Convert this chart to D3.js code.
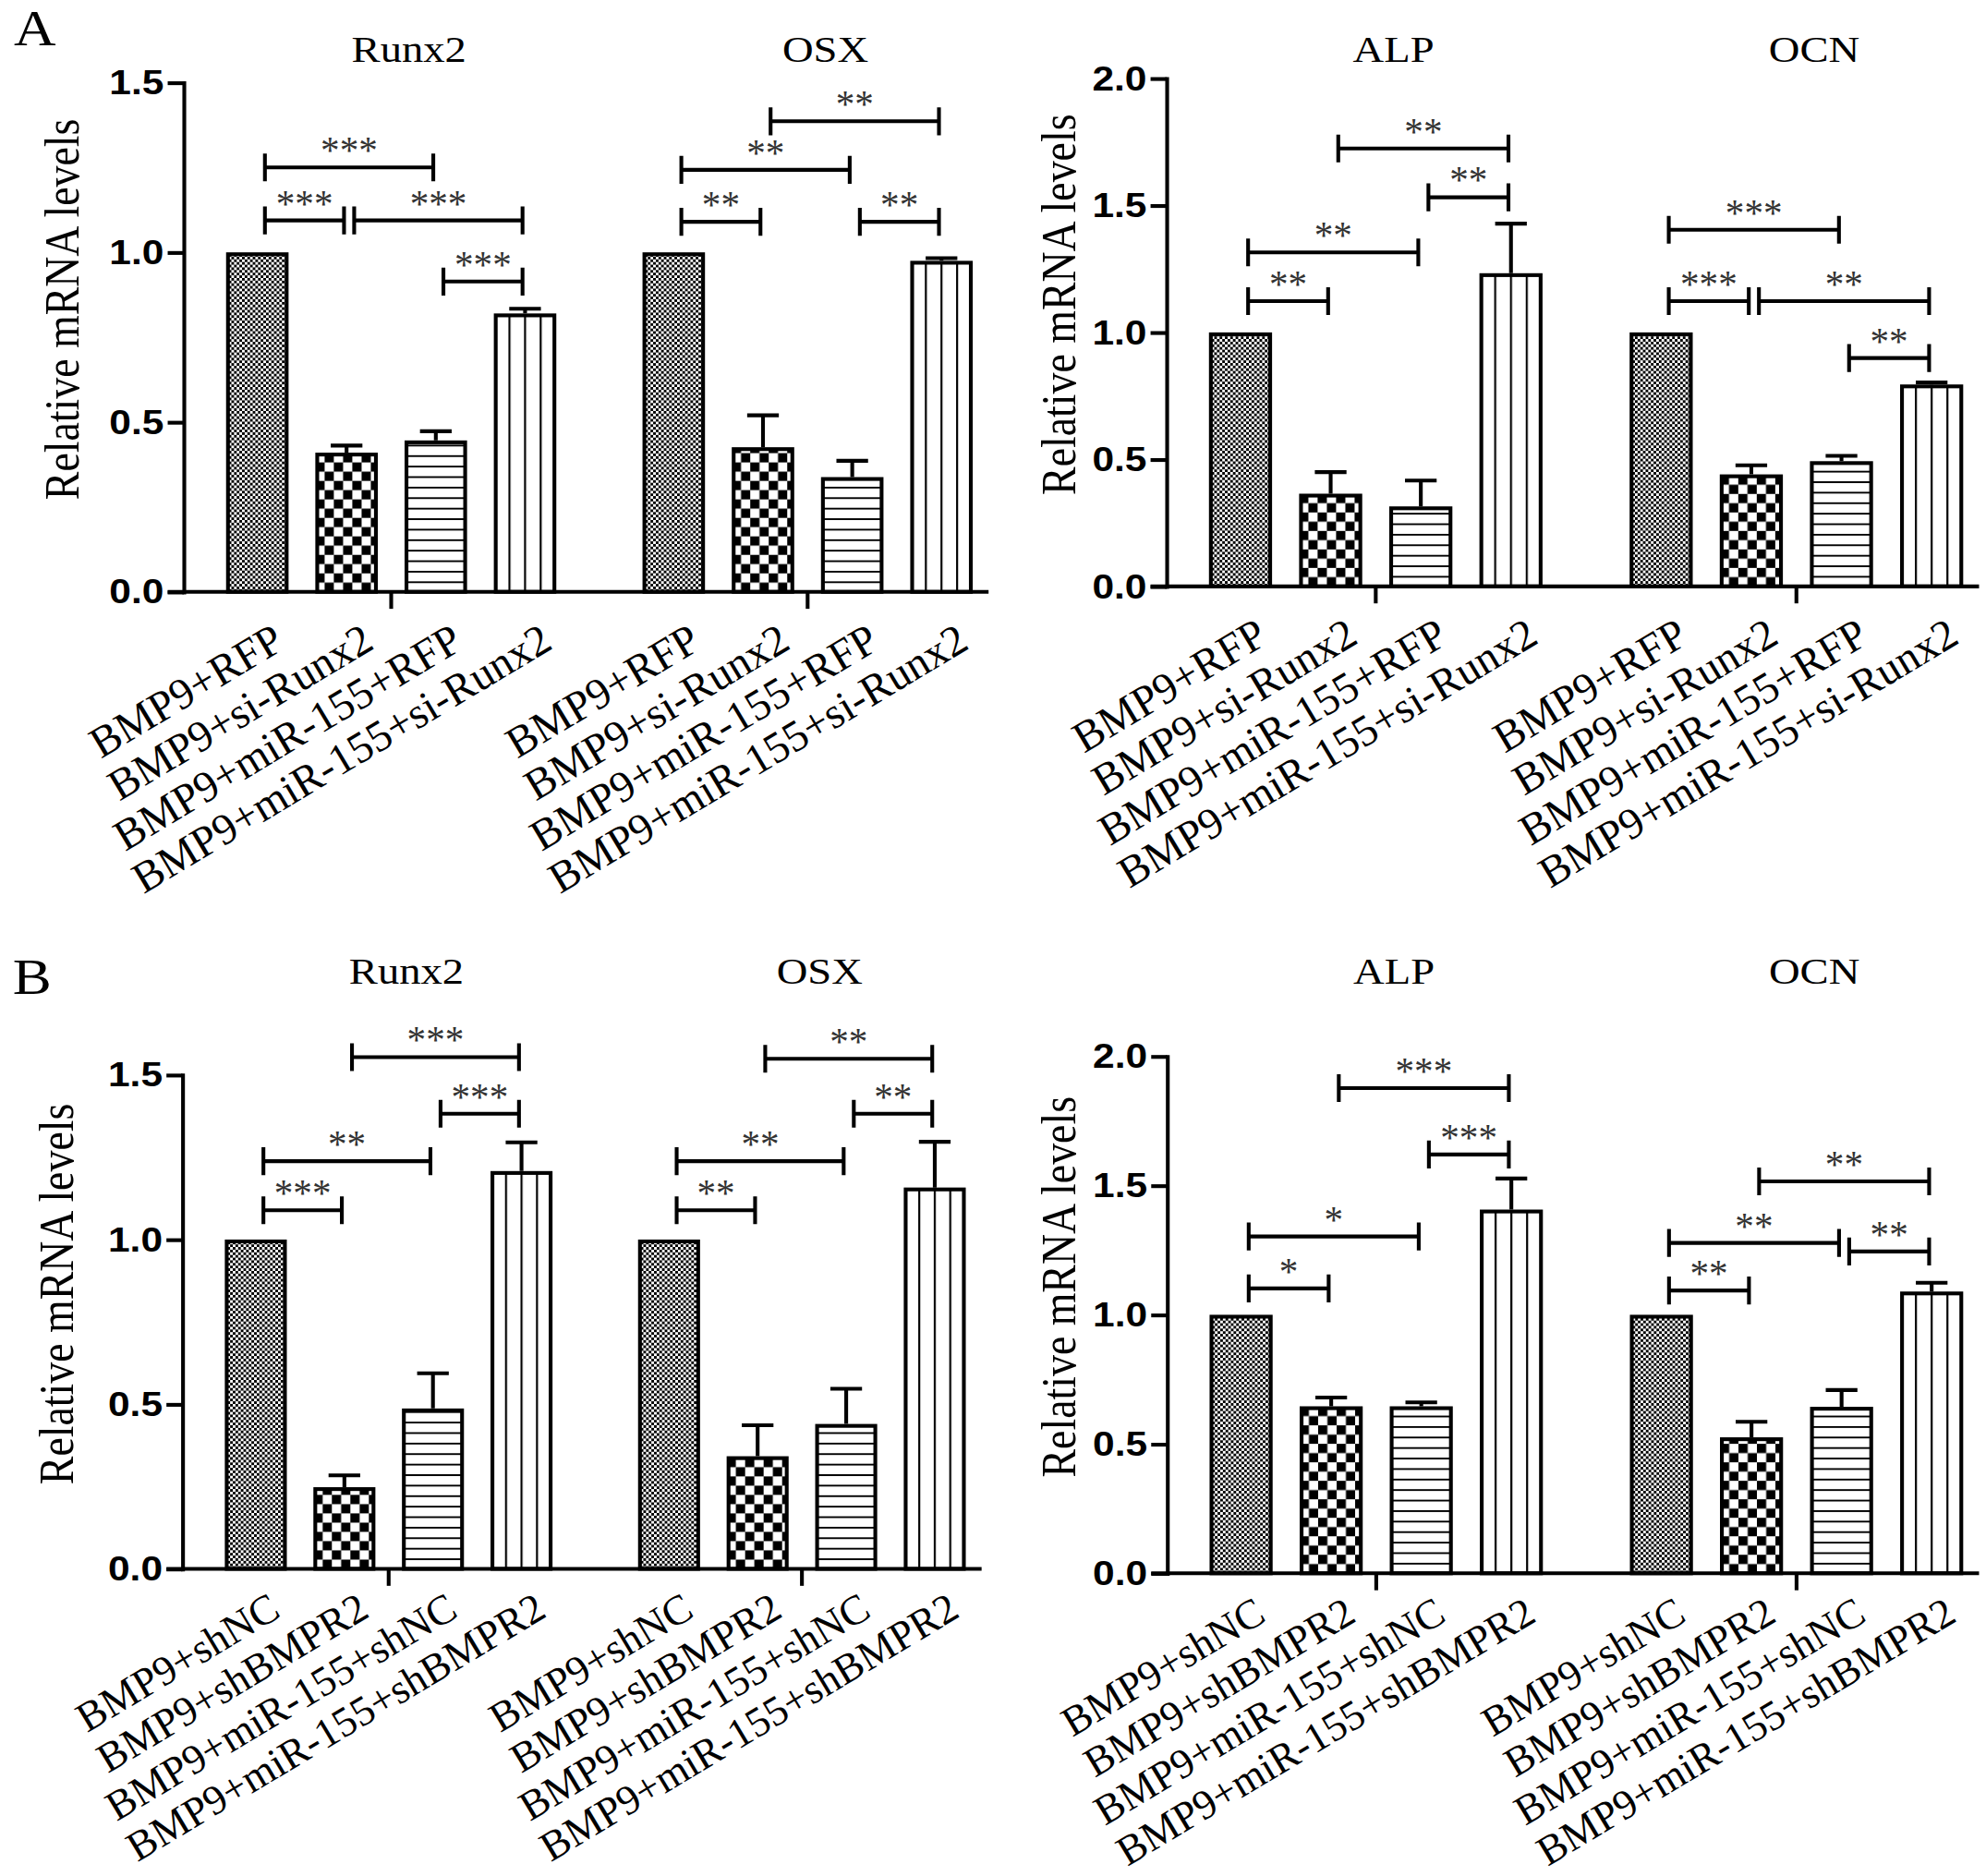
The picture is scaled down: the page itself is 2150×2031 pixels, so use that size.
<!DOCTYPE html>
<html>
<head>
<meta charset="utf-8">
<script src="https://cdn.jsdelivr.net/npm/d3@7/dist/d3.min.js"></script>
<style>
  html, body { margin: 0; padding: 0; background: #fff; }
  svg { display: block; }
</style>
</head>
<body>
<svg id="fig"></svg>
<script>
// ---- data -------------------------------------------------------------
const catsA = ["BMP9+RFP", "BMP9+si-Runx2", "BMP9+miR-155+RFP", "BMP9+miR-155+si-Runx2"];
const catsB = ["BMP9+shNC", "BMP9+shBMPR2", "BMP9+miR-155+shNC", "BMP9+miR-155+shBMPR2"];

const genesLeft = ["Runx2", "OSX"];
const genesRight = ["ALP", "OCN"];

const ticksLow = [0, 0.5, 1.0, 1.5];
const ticksHigh = [0, 0.5, 1.0, 1.5, 2.0];

// mean / SEM per gene, four bars each
const runx2A = [1.0, 0.41, 0.446, 0.82];
const runx2AErr = [0, 0.021, 0.027, 0.014];
const osxA = [1.0, 0.426, 0.338, 0.975];
const osxAErr = [0, 0.094, 0.048, 0.008];
const alpA = [1.0, 0.365, 0.315, 1.233];
const alpAErr = [0, 0.085, 0.102, 0.195];
const ocnA = [1.0, 0.441, 0.493, 0.795];
const ocnAErr = [0, 0.036, 0.021, 0.008];

const runx2B = [1.0, 0.248, 0.487, 1.208];
const runx2BErr = [0, 0.036, 0.107, 0.087];
const osxB = [1.0, 0.342, 0.44, 1.158];
const osxBErr = [0, 0.094, 0.107, 0.139];
const alpB = [1.0, 0.646, 0.646, 1.407];
const alpBErr = [0, 0.034, 0.015, 0.12];
const ocnB = [1.0, 0.526, 0.644, 1.09];
const ocnBErr = [0, 0.06, 0.065, 0.034];

// significance brackets: [from bar, to bar, height, label]
const sigRunx2A = [[0, 2, 1.25, "***"], [0, 1, 1.094, "***"], [1, 3, 1.094, "***"], [2, 3, 0.914, "***"]];
const sigOsxA = [[1, 3, 1.386, "**"], [0, 2, 1.243, "**"], [0, 1, 1.09, "**"], [2, 3, 1.09, "**"]];
const sigAlpA = [[1, 3, 1.724, "**"], [2, 3, 1.532, "**"], [0, 2, 1.315, "**"], [0, 1, 1.123, "**"]];
const sigOcnA = [[0, 2, 1.404, "***"], [0, 1, 1.123, "***"], [1, 3, 1.123, "**"], [2, 3, 0.899, "**"]];
const sigRunx2B = [[1, 3, 1.554, "***"], [2, 3, 1.382, "***"], [0, 2, 1.238, "**"], [0, 1, 1.089, "***"]];
const sigOsxB = [[1, 3, 1.549, "**"], [2, 3, 1.382, "**"], [0, 2, 1.238, "**"], [0, 1, 1.089, "**"]];
const sigAlpB = [[1, 3, 1.877, "***"], [2, 3, 1.62, "***"], [0, 2, 1.303, "*"], [0, 1, 1.102, "*"]];
const sigOcnB = [[1, 3, 1.516, "**"], [0, 2, 1.278, "**"], [2, 3, 1.245, "**"], [0, 1, 1.094, "**"]];

// ---- layout -----------------------------------------------------------
const W = 2150, H = 2031;
const VW = 1568, VH = VW * H / W;
const K = 0.88;           // titles and tick labels look slightly squashed in the source
const SERIF = "'Liberation Serif','Times New Roman',serif";
const SANS = "'Liberation Sans',Arial,sans-serif";
const SW = 3;             // stroke width of axes, bars, brackets

// label: [font size, dx from bar centre, dy below baseline]
const labA = [34.5, 23, 44];
const labB = [33, 21, 37];

const panels = [
  { axisX: 145, xEnd: 780.5, yTop: 65.2, yBot: 467.3, max: 1.5, ticks: ticksLow, labX: 62, titleY: 49, lab: labA,
    cats: catsA, genes: genesLeft, values: [runx2A, osxA], errs: [runx2AErr, osxAErr], sigs: [sigRunx2A, sigOsxA] },
  { axisX: 921, xEnd: 1562.5, yTop: 61.9, yBot: 463, max: 2.0, ticks: ticksHigh, labX: 849, titleY: 49, lab: labA,
    cats: catsA, genes: genesRight, values: [alpA, ocnA], errs: [alpAErr, ocnAErr], sigs: [sigAlpA, sigOcnA] },
  { axisX: 144, xEnd: 775, yTop: 848.7, yBot: 1238.7, max: 1.5, ticks: ticksLow, labX: 57.5, titleY: 776.5, lab: labB,
    cats: catsB, genes: genesLeft, values: [runx2B, osxB], errs: [runx2BErr, osxBErr], sigs: [sigRunx2B, sigOsxB] },
  { axisX: 921.5, xEnd: 1562.5, yTop: 834, yBot: 1242.2, max: 2.0, ticks: ticksHigh, labX: 849, titleY: 776.5, lab: labB,
    cats: catsB, genes: genesRight, values: [alpB, ocnB], errs: [alpBErr, ocnBErr], sigs: [sigAlpB, sigOcnB] }
];

const svg = d3.select("#fig")
  .attr("width", W).attr("height", H)
  .attr("viewBox", `0 0 ${VW} ${VH}`);
svg.append("rect").attr("width", VW).attr("height", VH).attr("fill", "#fff");
const defs = svg.append("defs");

// one pattern per bar so that it lines up with the bar edges
function makePattern(id, kind, x0, y0, bw) {
  const p = defs.append("pattern").attr("id", id).attr("patternUnits", "userSpaceOnUse");
  if (kind === 0) {          // fine dotted texture
    const s = 4.2;
    p.attr("x", x0).attr("y", y0).attr("width", s).attr("height", s);
    p.append("rect").attr("width", s).attr("height", s).attr("fill", "#fff");
    p.append("rect").attr("width", s / 2).attr("height", s / 2).attr("fill", "#000");
    p.append("rect").attr("x", s / 2).attr("y", s / 2).attr("width", s / 2).attr("height", s / 2).attr("fill", "#000");
  } else if (kind === 1) {   // coarse checkerboard
    const s = 14.6;
    p.attr("x", x0).attr("y", y0).attr("width", s).attr("height", s);
    p.append("rect").attr("width", s).attr("height", s).attr("fill", "#fff");
    p.append("rect").attr("width", s / 2).attr("height", s / 2).attr("fill", "#000");
    p.append("rect").attr("x", s / 2).attr("y", s / 2).attr("width", s / 2).attr("height", s / 2).attr("fill", "#000");
  } else if (kind === 2) {   // horizontal lines
    const s = 8.3;
    p.attr("x", x0).attr("y", y0).attr("width", 10).attr("height", s);
    p.append("rect").attr("width", 10).attr("height", s).attr("fill", "#fff");
    p.append("rect").attr("width", 10).attr("height", 1.4).attr("fill", "#000");
  } else {                   // vertical lines, bar split in four
    const s = bw / 4;
    p.attr("x", x0 - 0.8).attr("y", y0).attr("width", s).attr("height", 10);
    p.append("rect").attr("width", s).attr("height", 10).attr("fill", "#fff");
    p.append("rect").attr("width", 1.6).attr("height", 10).attr("fill", "#000");
  }
  return `url(#${id})`;
}

function squash(x, y, extra) {
  return `translate(${x},${y}) scale(1,${K})` + (extra ? ` ${extra}` : "");
}

panels.forEach((p, pi) => {
  const g = svg.append("g");

  const y = d3.scaleLinear().domain([0, p.max]).range([p.yBot, p.yTop]);
  const gx = d3.scaleBand().domain(p.genes)
    .range([p.axisX + 33.5, p.xEnd - 12.5])
    .paddingInner(0.207).paddingOuter(0);
  const bx = d3.scaleBand().domain(d3.range(p.cats.length))
    .range([0, gx.bandwidth()])
    .paddingInner(0.3).paddingOuter(0);
  const bw = bx.bandwidth();
  const cx = (gene, i) => gx(gene) + bx(i) + bw / 2;

  // bars + error bars
  p.genes.forEach((gene, gi) => {
    const vals = p.values[gi], errs = p.errs[gi];
    const bars = g.append("g");
    vals.forEach((v, i) => {
      const x0 = gx(gene) + bx(i);
      const fill = makePattern(`p${pi}_${gi}_${i}`, i, x0, p.yBot, bw);
      bars.append("rect")
        .attr("x", x0 + SW / 2).attr("y", y(v) + SW / 2)
        .attr("width", bw - SW).attr("height", y(0) - y(v) - SW / 2)
        .attr("fill", fill).attr("stroke", "#000").attr("stroke-width", SW);
      if (errs[i] > 0) {
        const c = cx(gene, i), yt = y(v + errs[i]);
        bars.append("path")
          .attr("d", `M${c},${y(v)}V${yt}M${c - 12.5},${yt}H${c + 12.5}`)
          .attr("fill", "none").attr("stroke", "#000").attr("stroke-width", SW);
      }
    });

    // significance brackets
    p.sigs[gi].forEach(([a, b, lv, lab]) => {
      const x1 = cx(gene, a) + 6, x2 = cx(gene, b) - 2, yl = y(lv);
      g.append("path")
        .attr("d", `M${x1},${yl}H${x2}M${x1},${yl - 11}V${yl + 11}M${x2},${yl - 11}V${yl + 11}`)
        .attr("fill", "none").attr("stroke", "#000").attr("stroke-width", SW);
      g.append("text")
        .attr("transform", `translate(${(x1 + x2) / 2},${yl - 3})`)
        .attr("text-anchor", "middle")
        .attr("font-family", SERIF).attr("font-size", 30).attr("fill", "#333")
        .text(lab);
    });

    // gene title
    g.append("text")
      .attr("transform", squash(gx(gene) + gx.bandwidth() / 2 + 14, p.titleY))
      .attr("text-anchor", "middle")
      .attr("font-family", SERIF).attr("font-size", 34)
      .text(gene);

    // slanted category labels
    const [fs, ldx, ldy] = p.lab;
    p.cats.forEach((cat, i) => {
      g.append("text")
        .attr("transform", `translate(${cx(gene, i) + ldx},${p.yBot + ldy}) rotate(-31)`)
        .attr("text-anchor", "end")
        .attr("font-family", SERIF).attr("font-size", fs)
        .text(cat);
    });
  });

  // y axis
  const gy = g.append("g")
    .attr("transform", `translate(${p.axisX},0)`)
    .call(d3.axisLeft(y).tickValues(p.ticks).tickFormat(d3.format(".1f"))
      .tickSize(12.6).tickSizeOuter(0).tickPadding(3));
  gy.select(".domain").attr("stroke-width", SW).attr("stroke-linecap", "square");
  gy.selectAll(".tick line").attr("stroke-width", SW);
  gy.selectAll(".tick text")
    .attr("font-family", SANS).attr("font-weight", "bold").attr("font-size", 31)
    .attr("fill", "#000").attr("transform", `scale(1,${K})`);

  // x axis: baseline plus one tick per gene group
  g.append("line")
    .attr("x1", p.axisX - 12.6).attr("x2", p.xEnd)
    .attr("y1", y(0)).attr("y2", y(0))
    .attr("stroke", "#000").attr("stroke-width", SW);
  const gxAxis = g.append("g")
    .attr("transform", `translate(0,${y(0)})`)
    .call(d3.axisBottom(gx).tickSize(13.4).tickFormat(""));
  gxAxis.select(".domain").remove();
  gxAxis.selectAll(".tick line").attr("stroke-width", SW);

  // y axis title
  g.append("text")
    .attr("transform", squash(p.labX, (p.yTop + p.yBot) / 2 - 22, "rotate(-90)"))
    .attr("text-anchor", "middle")
    .attr("font-family", SERIF).attr("font-size", 38)
    .text("Relative mRNA levels");
});

// panel letters
svg.append("text").attr("transform", squash(11, 36)).attr("font-family", SERIF).attr("font-size", 46).text("A");
svg.append("text").attr("transform", squash(10, 785)).attr("font-family", SERIF).attr("font-size", 46).text("B");
</script>
</body>
</html>
